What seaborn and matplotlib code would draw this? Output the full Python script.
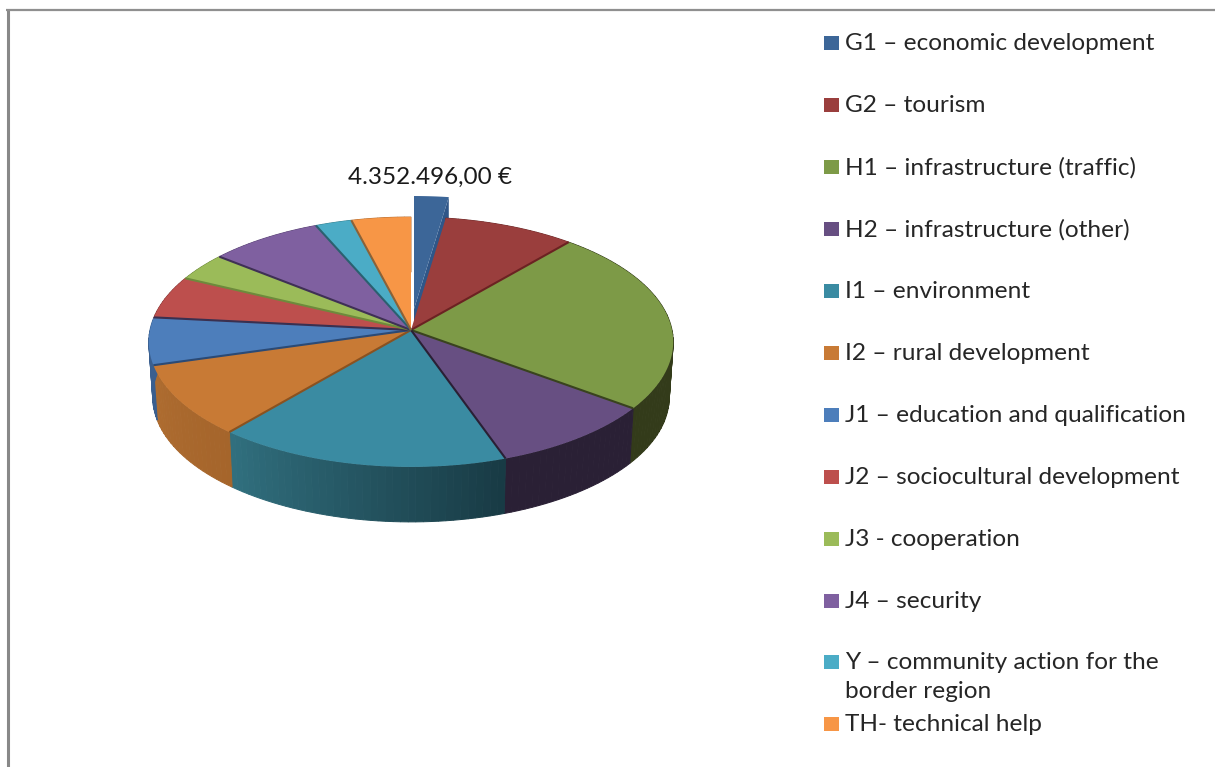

# 3D style exploded pie of funding per priority axis
import numpy as np
import matplotlib.pyplot as plt
import seaborn as sns

sns.set_theme(style='white')
plt.rcParams['font.family'] = ['Lato', 'DejaVu Sans']

categories = ['G1 – economic development', 'G2 – tourism', 'H1 – infrastructure (traffic)',
              'H2 – infrastructure (other)', 'I1 – environment', 'I2 – rural development',
              'J1 – education and qualification', 'J2 – sociocultural development',
              'J3 - cooperation', 'J4 – security',
              'Y – community action for the\nborder region', 'TH- technical help']
values = [4.35, 16.6, 44.7, 17.7, 30.8, 17.5, 11.4, 10.3, 6.8, 14.4, 4.6, 7.5]
value_label = '4.352.496,00 €'

slice_colors = ['#3C6698', '#9A3E3D', '#7D9A47', '#674F82', '#3A8BA2', '#C87A35',
                '#4D7EBB', '#BD4F4D', '#9BBB59', '#7F60A0', '#4BACC6', '#F79646']
# wall shade at the start and the end of each slice (clockwise)
wall_start = ['#2C4A70', '#6E2C2B', '#333B1A', '#2A2035', '#183A44', '#A5652B',
              '#3A5F8F', '#8A3A38', '#6E8A3C', '#5A4475', '#35808F', '#B86E30']
wall_end = ['#2C4A70', '#6E2C2B', '#333B1A', '#2A2035', '#31707F', '#AE6C30',
            '#3A5F8F', '#8A3A38', '#6E8A3C', '#5A4475', '#35808F', '#B86E30']
seam_colors = ['#2C4A70', '#6B2222', '#39431E', '#2A2035', '#2A2035', '#8A5220',
               '#2B4A75', '#3A3050', '#6E8A3C', '#3F3055', '#2B6070', '#8A6238']

# layout in pixels
W, H = 1215, 767
cx, cy = 411, 330
rx, ry = 261, 123.8
persp = 0.0957
depth = 55
explode_dx, explode_dy = 3, -21

palette = sns.color_palette(slice_colors)


def project(theta, r=1.0, dx=0.0, dy=0.0):
    # theta in degrees clockwise from the top, far side drawn a bit smaller
    t = np.radians(theta)
    u, v = r * np.sin(t), r * np.cos(t)
    s = 1 / (1 + persp * v)
    return cx + rx * u * s + dx, cy - ry * v * s + dy


def lerp_color(a, b, f):
    a, b = np.array(sns.color_palette([a])[0]), np.array(sns.color_palette([b])[0])
    return tuple(a + (b - a) * f)


fig = plt.figure(figsize=(W / 100, H / 100), dpi=100)
ax = fig.add_axes([0, 0, 1, 1])
ax.set_xlim(0, W)
ax.set_ylim(H, 0)
ax.axis('off')

# frame of the pasted chart
ax.plot([7.5, 7.5], [9, H], color='#888888', lw=2.2, solid_capstyle='butt')
ax.plot([6, W], [9.5, 9.5], color='#8f8f8f', lw=1.6, solid_capstyle='butt')

edges = np.concatenate([[0], np.cumsum(values)]) / np.sum(values) * 360

# pulled out slice goes first, the rest of the pie covers its cut face
th = np.linspace(edges[0], edges[1], 20)
x, y = project(th, dx=explode_dx, dy=explode_dy)
ax.fill([x[-1], x[-1], cx + explode_dx, cx + explode_dx],
        [y[-1], y[-1] + depth, cy + 2, cy + explode_dy], color='#2F5688', lw=0)
ax.fill(np.r_[cx + explode_dx, x], np.r_[cy + explode_dy, y], color=palette[0], lw=0)

# walls
for i in range(1, len(values)):
    a, b = edges[i], edges[i + 1]
    steps = max(int((b - a) / 1.5), 1)
    for k in range(steps):
        t0 = a + (b - a) * k / steps
        t1 = a + (b - a) * (k + 1) / steps
        th = np.linspace(t0, t1, 4)
        x, y = project(th)
        xb = cx + (x - cx) * 0.985
        c = lerp_color(wall_start[i], wall_end[i], (k + 0.5) / steps)
        ax.fill(np.r_[x, xb[::-1]], np.r_[y, y[::-1] + depth], color=c, lw=0.7)

# top faces
for i in range(1, len(values)):
    th = np.linspace(edges[i], edges[i + 1], 60)
    x, y = project(th)
    ax.fill(np.r_[cx, x], np.r_[cy, y], color=palette[i], lw=0)

# dark seams between the slices
for i in range(1, len(values)):
    x, y = project(edges[i + 1])
    if edges[i + 1] < 350:
        j = i if edges[i + 1] < 180 else (i + 1)
        ax.plot([cx, x], [cy, y], color=seam_colors[j], lw=1.5, solid_capstyle='butt')

ax.text(430.5, 177, value_label, fontsize=17.5, color='#1a1a1a', ha='center', va='center')

# legend, entries sit on a fixed pitch so the two line one does not push the next
legend_y = [43, 105, 167, 229, 291, 353, 415, 477, 539, 601, 662, 724]
for name, col, ly in zip(categories, palette, legend_y):
    ax.fill([824, 838.5, 838.5, 824], [ly - 7, ly - 7, ly + 7, ly + 7], color=col, lw=0)
    ax.text(845, ly - 10, name, fontsize=17.6, color='#262626', ha='left', va='top', linespacing=1.47)

plt.savefig('out.png', dpi=100)
